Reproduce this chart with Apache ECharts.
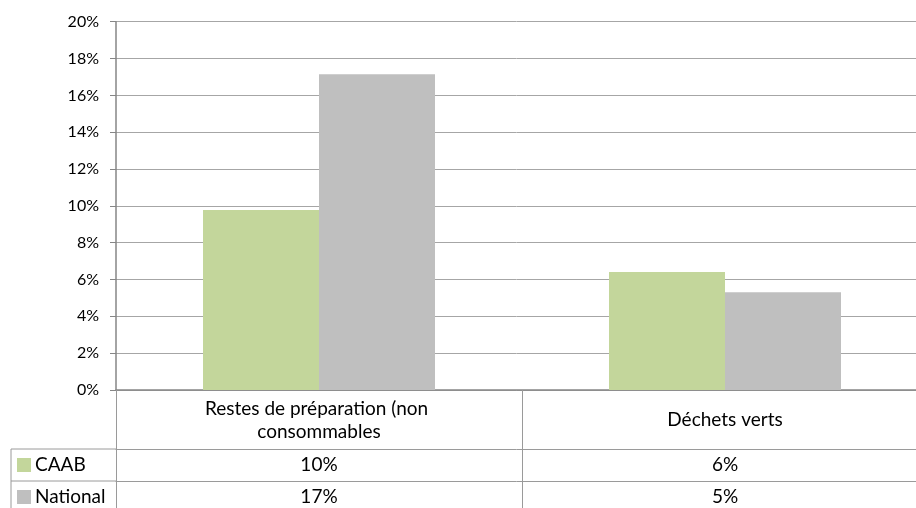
<!DOCTYPE html>
<html>
<head>
<meta charset="utf-8">
<script src="https://cdn.jsdelivr.net/npm/echarts@6/dist/echarts.min.js"></script>
<style>
html,body{margin:0;padding:0;background:#fff;}
#c{width:916px;height:508px;}
</style>
</head>
<body>
<div id="c"></div>
<script>
const categories = ['Restes de préparation (non consommables', 'Déchets verts'];
const seriesNames = ['CAAB', 'National'];
const caab = [9.77, 6.41];
const national = [17.15, 5.31];
const yTicks = [0, 2, 4, 6, 8, 10, 12, 14, 16, 18, 20];

const FONT = 'Lato, "Open Sans", sans-serif';
const GREEN = '#C3D69B';
const GRAY = '#BFBFBF';
const LINE = '#9A9A9A';

const L = 116, T = 21.7, B = 118, W = 812;
const H = 508 - T - B;
const zeroY = T + H;

const chart = echarts.init(document.getElementById('c'), null, {renderer: 'canvas'});
const pct = v => Math.round(v) + '%';

const tableAxis = (values, offset) => ({
  type: 'category',
  data: values.map(pct),
  position: 'bottom',
  offset: offset,
  axisLine: {show: true, lineStyle: {color: LINE, width: 1}},
  axisTick: {show: false},
  axisLabel: {
    interval: 0, margin: 16, verticalAlign: 'middle',
    fontFamily: FONT, fontSize: 19, color: '#000'
  },
  splitLine: {show: false}
});

chart.setOption({
  animation: false,
  backgroundColor: '#fff',
  grid: {left: L, top: T, width: W, bottom: B, containLabel: false, outerBoundsMode: 'none'},
  xAxis: [
    {
      type: 'category',
      data: categories,
      position: 'bottom',
      axisLine: {show: true, lineStyle: {color: '#868686', width: 1.5}},
      axisTick: {show: true, alignWithLabel: false, interval: 0, length: B, lineStyle: {color: LINE, width: 1}},
      axisLabel: {
        interval: 0, margin: 30, verticalAlign: 'middle',
        width: 320, overflow: 'break', lineHeight: 23,
        fontFamily: FONT, fontSize: 19, color: '#000', align: 'center'
      },
      splitLine: {show: false}
    },
    tableAxis(caab, 59),
    tableAxis(national, 91)
  ],
  yAxis: {
    type: 'value',
    min: yTicks[0], max: yTicks[yTicks.length - 1], interval: yTicks[1] - yTicks[0],
    axisLine: {show: true, lineStyle: {color: '#868686', width: 1.5}},
    axisTick: {show: true, length: 6, lineStyle: {color: '#868686'}},
    axisLabel: {formatter: '{value}%', margin: 17, fontFamily: FONT, fontSize: 16, color: '#000'},
    splitLine: {show: true, lineStyle: {color: '#A6A6A6', width: 1}}
  },
  series: [
    {name: seriesNames[0], type: 'bar', data: caab, barWidth: 116, barGap: '0%', itemStyle: {color: GREEN}, xAxisIndex: 0},
    {name: seriesNames[1], type: 'bar', data: national, barWidth: 116, barGap: '0%', itemStyle: {color: GRAY}, xAxisIndex: 0}
  ],
  graphic: [
    {type: 'line', shape: {x1: 11, y1: zeroY + 59, x2: L, y2: zeroY + 59}, style: {stroke: LINE, lineWidth: 1}},
    {type: 'line', shape: {x1: 11, y1: zeroY + 91, x2: L, y2: zeroY + 91}, style: {stroke: LINE, lineWidth: 1}},
    {type: 'line', shape: {x1: 11, y1: zeroY + 59, x2: 11, y2: 508}, style: {stroke: LINE, lineWidth: 1}},
    {type: 'rect', shape: {x: 17, y: zeroY + 68, width: 14, height: 14}, style: {fill: GREEN}},
    {type: 'text', x: 35, y: zeroY + 75, style: {text: seriesNames[0], font: '19px ' + FONT, fill: '#000', verticalAlign: 'middle'}},
    {type: 'rect', shape: {x: 17, y: zeroY + 100, width: 14, height: 14}, style: {fill: GRAY}},
    {type: 'text', x: 35, y: zeroY + 107, style: {text: seriesNames[1], font: '19px ' + FONT, fill: '#000', verticalAlign: 'middle'}}
  ]
});
</script>
</body>
</html>
